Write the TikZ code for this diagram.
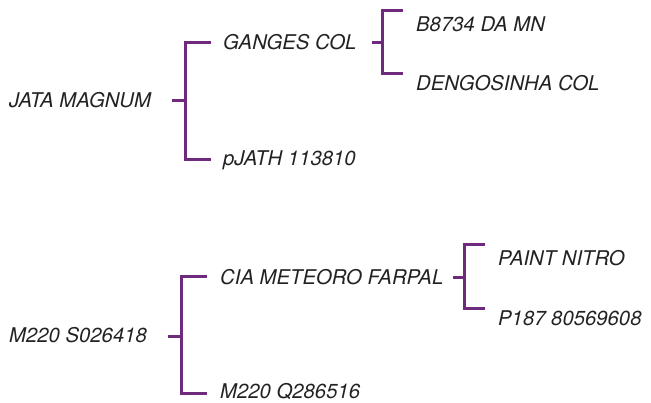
\documentclass[tikz,border=0pt]{standalone}
\usepackage{fontspec}
\setmainfont{TeX Gyre Heros}
\definecolor{brk}{HTML}{6E2A7C}
\definecolor{txt}{HTML}{222222}
\begin{document}
\begin{tikzpicture}[x=1pt,y=1pt,
  lbl/.style={anchor=west,inner sep=0pt,text height=14.6pt,text depth=0pt,
    font=\fontsize{20.3}{20.3}\selectfont\itshape,text=txt},
  br/.style={draw=brk,line width=3pt}]
\useasboundingbox (0,0) rectangle (651,-403);
% texts
\node[lbl] (r1) at (9,-100) {JATA MAGNUM};
\node[lbl] (a1) at (223,-42) {GANGES COL};
\node[lbl] (a2) at (223,-158) {pJATH 113810};
\node[lbl] (b1) at (416,-24) {B8734 DA MN};
\node[lbl] (b2) at (416,-83) {DENGOSINHA COL};
\node[lbl] (r2) at (9,-335) {M220 S026418};
\node[lbl] (c1) at (220,-277) {CIA METEORO FARPAL};
\node[lbl] (c2) at (220,-391) {M220 Q286516};
\node[lbl] (d1) at (498,-258) {PAINT NITRO};
\node[lbl] (d2) at (498,-318) {P187 80569608};
% bracket points
\coordinate (s1) at (172,-101); \coordinate (j1) at (185,-101);
\coordinate (t1) at (211,-43);  \coordinate (u1) at (211,-160);
\coordinate (s2) at (372,-43);  \coordinate (j2) at (382,-43);
\coordinate (t2) at (403,-11);  \coordinate (u2) at (403,-74);
\coordinate (s3) at (168,-337); \coordinate (j3) at (181,-337);
\coordinate (t3) at (207,-277); \coordinate (u3) at (207,-394);
\coordinate (s4) at (453,-278); \coordinate (j4) at (464,-278);
\coordinate (t4) at (485,-245); \coordinate (u4) at (485,-309);
\foreach \i in {1,2,3,4}{
  \draw[br] (s\i) -- (j\i);
  \draw[br] (t\i) -- (t\i -| j\i) -- (u\i -| j\i) -- (u\i);
}
\end{tikzpicture}
\end{document}
